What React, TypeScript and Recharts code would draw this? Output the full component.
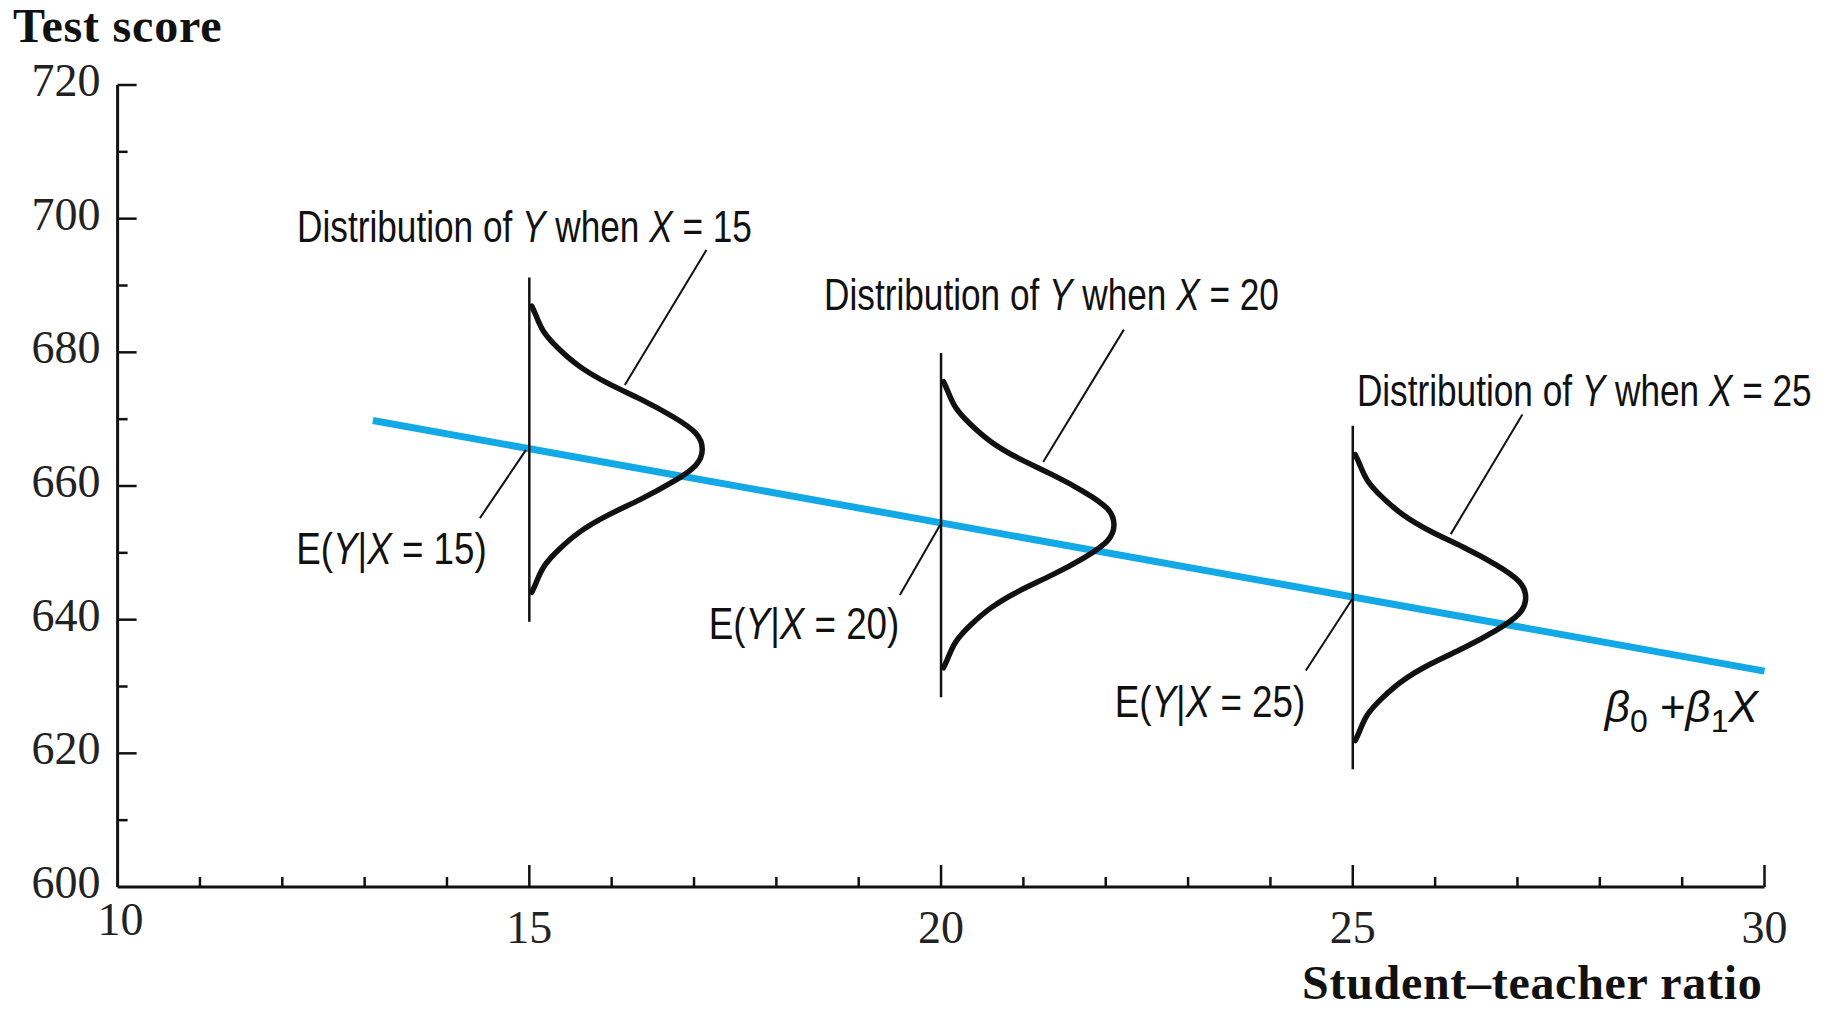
import React from 'react';
import { ComposedChart, Line, XAxis, YAxis, ReferenceDot } from 'recharts';

// ---------- data ----------
const xTicks = [10, 11, 12, 13, 14, 15, 16, 17, 18, 19, 20, 21, 22, 23, 24, 25, 26, 27, 28, 29, 30];
const xTickLabels = [10, 15, 20, 25, 30];
const yTicks = [600, 610, 620, 630, 640, 650, 660, 670, 680, 690, 700, 710, 720];
const yTickLabels = [600, 620, 640, 660, 680, 700, 720];

// population regression line beta0 + beta1 X
const regressionX = [13.1, 30];
const regressionY = [669.8, 632.3];

// conditional distributions
const distX = [15, 20, 25];
const distMeanY = [665.5, 654.2, 643.3];
const distStemTop = [691.2, 679.9, 669.0];
const distStemBottom = [639.7, 628.4, 617.6];
// shape of each density curve: offset in Y, width in X
const profileDy = [21.4, 19.9, 17.5, 15.0, 12.4, 9.9, 7.5, 4.9, 2.4, 0, -2.4, -4.9, -7.5, -9.9, -12.4, -15.0, -17.5, -19.9, -21.4];
const profileDx = [0.03, 0.085, 0.18, 0.36, 0.61, 0.95, 1.35, 1.74, 2.02, 2.1, 2.02, 1.74, 1.35, 0.95, 0.61, 0.36, 0.18, 0.085, 0.03];

// leader lines (start x, start y, end x, end y)
const leaderX1 = [16.16, 21.24, 26.19, 14.4, 19.5, 24.43];
const leaderY1 = [675.1, 663.6, 652.8, 655.2, 643.7, 632.4];
const leaderX2 = [17.15, 22.22, 27.06, 14.96, 19.99, 25.0];
const leaderY2 = [695.3, 683.4, 670.7, 665.4, 654.2, 643.2];

// annotation texts
const distLabelValues = ['15', '20', '25'];
const meanLabelValues = ['15', '20', '25'];

// ---------- layout / style ----------
const W = 1825;
const H = 1009;
const SERIF = "'Liberation Serif', 'Times New Roman', serif";
const SANS = "'Liberation Sans Narrow', 'Liberation Sans', 'DejaVu Sans Condensed', sans-serif";
const INK = '#111111';
const BLUE = '#12A9E6';

const distLabelAnchors = [
  { x: 12.18, y: 696.55 },
  { x: 18.58, y: 686.3 },
  { x: 25.05, y: 671.9 },
];
const meanLabelAnchors = [
  { x: 12.17, y: 648.4 },
  { x: 17.18, y: 637.1 },
  { x: 22.11, y: 625.5 },
];
const betaAnchor = { x: 28.06, y: 624.7 };

const regressionData = regressionX.map((x, i) => ({ x, y: regressionY[i] }));
const curveData = distX.map((cx, i) =>
  profileDy.map((dy, j) => ({ x: cx + profileDx[j], y: distMeanY[i] + dy }))
);
const stemData = distX.map((cx, i) => [
  { x: cx, y: distStemTop[i] },
  { x: cx, y: distStemBottom[i] },
]);
const leaderData = leaderX1.map((x, i) => [
  { x, y: leaderY1[i] },
  { x: leaderX2[i], y: leaderY2[i] },
]);

const XTick = (props: any) => {
  const { x, y, payload } = props;
  const v = payload.value;
  const major = v % 5 === 0;
  return (
    <g>
      {v !== 10 && (
        <line x1={x} x2={x} y1={y} y2={y - (major ? 22 : 10)} stroke={INK} strokeWidth={2.5} />
      )}
      {xTickLabels.includes(v) && (
        <text
          x={x + (v === 10 ? 3 : 0)}
          y={y + (v === 10 ? 48 : 56)}
          textAnchor="middle"
          fontFamily={SERIF}
          fontSize={46}
          fill="#222"
        >
          {v}
        </text>
      )}
    </g>
  );
};

const YTick = (props: any) => {
  const { x, y, payload } = props;
  const v = payload.value;
  const major = v % 20 === 0;
  return (
    <g>
      {v !== 600 && (
        <line x1={x} x2={x + (major ? 19 : 10)} y1={y} y2={y} stroke={INK} strokeWidth={2.5} />
      )}
      {yTickLabels.includes(v) && (
        <text x={x - 17} y={y + 11} textAnchor="end" fontFamily={SERIF} fontSize={46} fill="#222">
          {v}
        </text>
      )}
    </g>
  );
};

const center = (vb: any) => ({ cx: vb.x + (vb.width || 0) / 2, cy: vb.y + (vb.height || 0) / 2 });

const distLabel = (value: string) => (p: any) => {
  const { cx, cy } = center(p.viewBox);
  return (
    <g transform={`translate(${cx},${cy}) scale(0.8,1)`}>
      <text x={0} y={0} fontFamily={SANS} fontSize={44} fill={INK}>
        {'Distribution of '}
        <tspan fontStyle="italic">Y</tspan>
        {' when '}
        <tspan fontStyle="italic">X</tspan>
        {' = ' + value}
      </text>
    </g>
  );
};

const meanLabel = (value: string) => (p: any) => {
  const { cx, cy } = center(p.viewBox);
  return (
    <g transform={`translate(${cx},${cy}) scale(0.836,1)`}>
      <text x={0} y={0} fontFamily={SANS} fontSize={44} fill={INK}>
        {'E('}
        <tspan fontStyle="italic">Y</tspan>
        {'|'}
        <tspan fontStyle="italic">X</tspan>
        {' = ' + value + ')'}
      </text>
    </g>
  );
};

const betaLabel = (p: any) => {
  const { cx, cy } = center(p.viewBox);
  return (
    <g transform={`translate(${cx},${cy})`}>
      <text x={0} y={0} fontFamily={SANS} fontSize={44} fill={INK}>
        <tspan fontStyle="italic">β</tspan>
        <tspan fontSize={32} dy={10}>0</tspan>
        <tspan dy={-10}>{' +'}</tspan>
        <tspan fontStyle="italic">β</tspan>
        <tspan fontSize={32} dy={10}>1</tspan>
        <tspan dy={-10} fontStyle="italic">X</tspan>
      </text>
    </g>
  );
};

const yTitle = (p: any) => {
  const vb = p.viewBox;
  const axisX = vb.x + vb.width;
  return (
    <text x={axisX - 104.6} y={vb.y - 43} fontFamily={SERIF} fontWeight="bold" fontSize={48} letterSpacing={0.8} fill={INK}>
      Test score
    </text>
  );
};

const xTitle = (p: any) => {
  const vb = p.viewBox;
  return (
    <text x={vb.x + vb.width - 2} y={vb.y + 112} textAnchor="end" fontFamily={SERIF} fontWeight="bold" fontSize={48} letterSpacing={0.7} fill={INK}>
      Student–teacher ratio
    </text>
  );
};

export default function App() {
  return (
    <div style={{ position: 'absolute', left: 0, top: 0, width: W, height: H, background: '#fff' }}>
      <ComposedChart width={W} height={H} margin={{ top: 85, right: 60.5, bottom: 62, left: 57.6 }}>
        <XAxis
          type="number"
          dataKey="x"
          domain={[10, 30]}
          ticks={xTicks}
          interval={0}
          tickSize={0}
          tickMargin={0}
          tickLine={false}
          tick={<XTick />}
          axisLine={{ stroke: INK, strokeWidth: 3 }}
          height={60}
          label={{ content: xTitle }}
        />
        <YAxis
          type="number"
          dataKey="y"
          domain={[600, 720]}
          ticks={yTicks}
          interval={0}
          tickSize={0}
          tickMargin={0}
          tickLine={false}
          tick={<YTick />}
          axisLine={{ stroke: INK, strokeWidth: 3 }}
          width={60}
          label={{ content: yTitle }}
        />
        <Line
          data={regressionData}
          dataKey="y"
          type="linear"
          stroke={BLUE}
          strokeWidth={7}
          dot={false}
          activeDot={false}
          isAnimationActive={false}
        />
        {stemData.map((d, i) => (
          <Line
            key={'stem' + i}
            data={d}
            dataKey="y"
            type="linear"
            stroke={INK}
            strokeWidth={2.5}
            dot={false}
            activeDot={false}
            isAnimationActive={false}
          />
        ))}
        {leaderData.map((d, i) => (
          <Line
            key={'lead' + i}
            data={d}
            dataKey="y"
            type="linear"
            stroke={INK}
            strokeWidth={2}
            dot={false}
            activeDot={false}
            isAnimationActive={false}
          />
        ))}
        {curveData.map((d, i) => (
          <Line
            key={'curve' + i}
            data={d}
            dataKey="y"
            type="natural"
            stroke={INK}
            strokeWidth={5.5}
            strokeLinecap="round"
            dot={false}
            activeDot={false}
            isAnimationActive={false}
          />
        ))}
        {distLabelAnchors.map((a, i) => (
          <ReferenceDot
            key={'dl' + i}
            x={a.x}
            y={a.y}
            r={1}
            fill="none"
            stroke="none"
            ifOverflow="visible"
            label={{ content: distLabel(distLabelValues[i]) }}
          />
        ))}
        {meanLabelAnchors.map((a, i) => (
          <ReferenceDot
            key={'ml' + i}
            x={a.x}
            y={a.y}
            r={1}
            fill="none"
            stroke="none"
            ifOverflow="visible"
            label={{ content: meanLabel(meanLabelValues[i]) }}
          />
        ))}
        <ReferenceDot
          x={betaAnchor.x}
          y={betaAnchor.y}
          r={1}
          fill="none"
          stroke="none"
          ifOverflow="visible"
          label={{ content: betaLabel }}
        />
      </ComposedChart>
    </div>
  );
}
